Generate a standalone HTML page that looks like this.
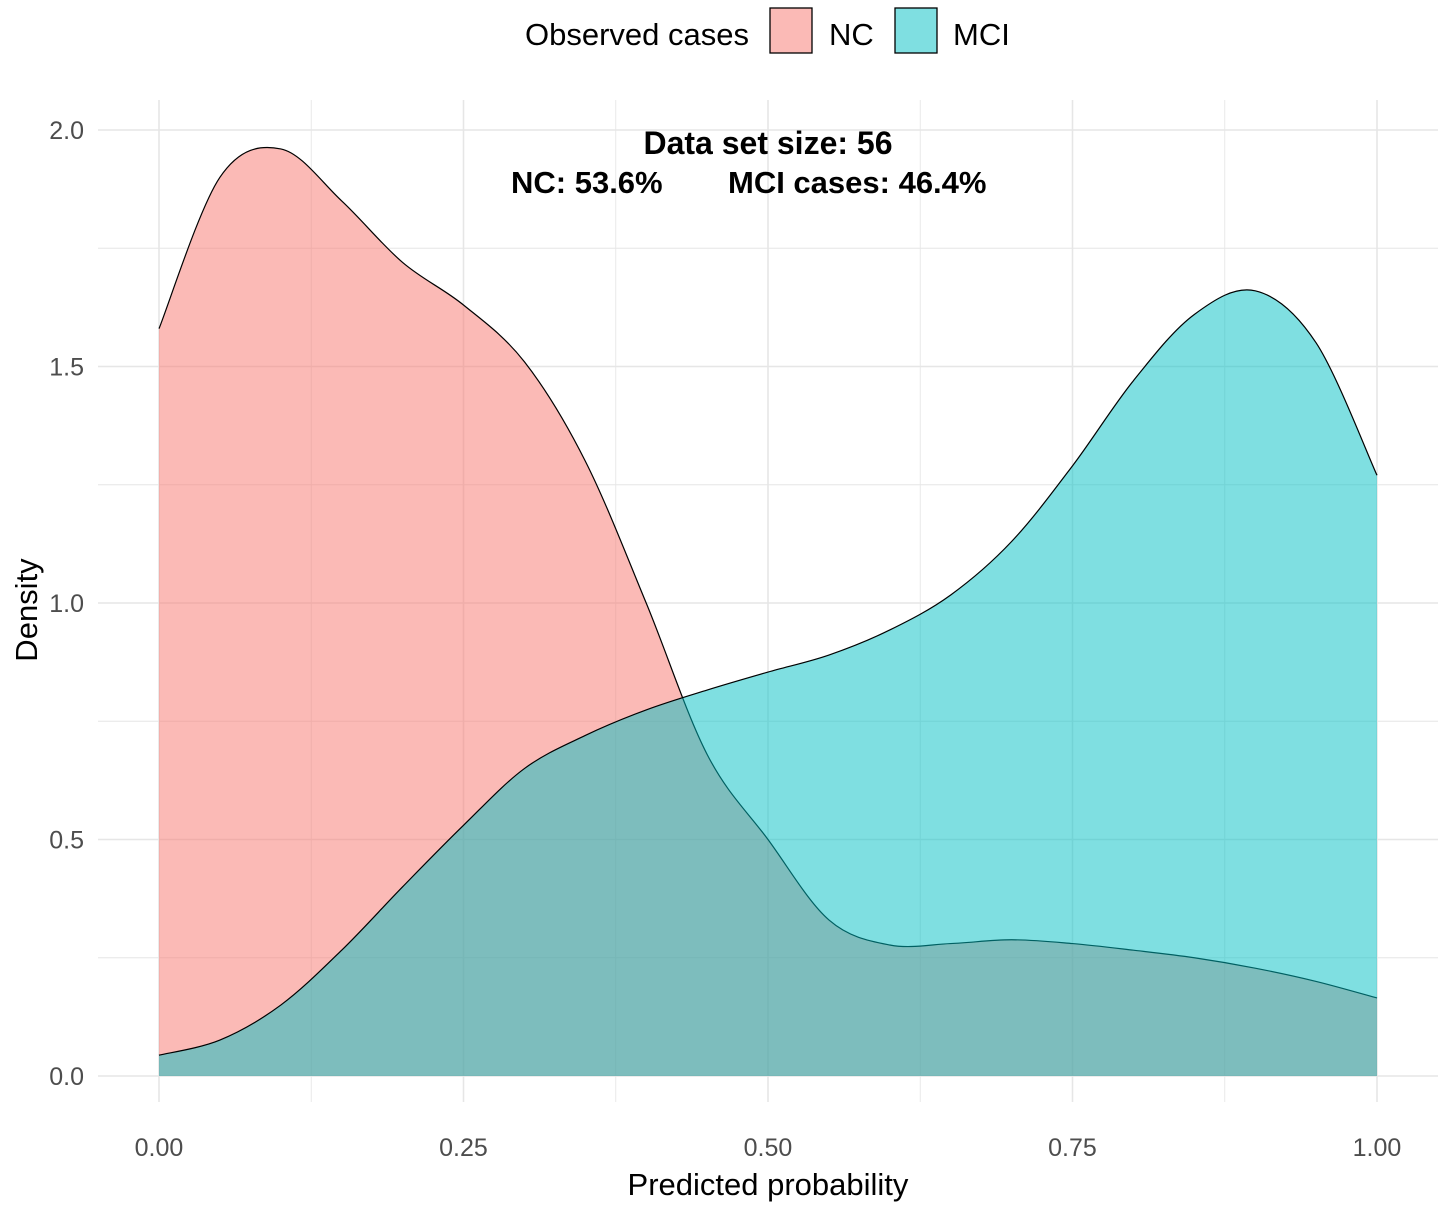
<!DOCTYPE html>
<html><head><meta charset="utf-8"><style>
body{margin:0;background:#fff;}
svg{display:block;font-family:"Liberation Sans",Arial,sans-serif;}
</style></head><body>
<svg id="chart" width="1441" height="1215">
<g id="grid"></g>
<g id="areas"></g>
<g id="ticks"></g>
<text x="768" y="154" text-anchor="middle" font-size="32" font-weight="bold">Data set size: 56</text>
<text x="511" y="193" font-size="31" font-weight="bold">NC: 53.6%</text>
<text x="728" y="193" font-size="31" font-weight="bold">MCI cases: 46.4%</text>
<text x="768" y="1195" text-anchor="middle" font-size="31">Predicted probability</text>
<text transform="translate(37,610) rotate(-90)" text-anchor="middle" font-size="31">Density</text>
<g>
<text x="525" y="45" font-size="31">Observed cases</text>
<rect x="770" y="8" width="42" height="45" fill="#F8766D" fill-opacity="0.5" stroke="#000" stroke-width="1.3"/>
<text x="829" y="45" font-size="31">NC</text>
<rect x="895" y="8" width="42" height="45" fill="#00BFC4" fill-opacity="0.5" stroke="#000" stroke-width="1.3"/>
<text x="953" y="45" font-size="31">MCI</text>
</g>
</svg>
<script>
const xs = [0,0.05,0.1,0.15,0.2,0.25,0.3,0.35,0.4,0.45,0.5,0.55,0.6,0.65,0.7,0.75,0.8,0.85,0.9,0.95,1.0];
const ncVals = [1.58,1.90,1.96,1.85,1.72,1.63,1.51,1.30,1.0,0.68,0.50,0.33,0.277,0.28,0.288,0.28,0.266,0.25,0.228,0.20,0.165];
const mciVals = [0.044,0.076,0.15,0.266,0.40,0.53,0.65,0.72,0.774,0.816,0.854,0.89,0.943,1.017,1.13,1.29,1.47,1.61,1.66,1.55,1.27];
const xTicks = [0,0.25,0.5,0.75,1.0];
const xTickLabels = ["0.00","0.25","0.50","0.75","1.00"];
const yTicks = [0,0.5,1.0,1.5,2.0];
const yTickLabels = ["0.0","0.5","1.0","1.5","2.0"];
const NS="http://www.w3.org/2000/svg";
const X=v=>159+v*1218, Y=v=>1076-v*473;
function mk(t,a,p){const e=document.createElementNS(NS,t);for(const k in a)e.setAttribute(k,a[k]);p.appendChild(e);return e;}
const grid=document.getElementById('grid'), ticks=document.getElementById('ticks'), areas=document.getElementById('areas');
for(let v=0;v<=1.0001;v+=0.125){const l=mk('line',{x1:X(v),x2:X(v),y1:100,y2:1102,stroke:'#e6e6e6','stroke-width':v*8%2<0.01?1.6:0.9},grid);
}
for(let v=0;v<=2.0001;v+=0.25){const l=mk('line',{x1:98,x2:1438,y1:Y(v),y2:Y(v),stroke:'#e6e6e6','stroke-width':v*4%2<0.01?1.6:0.9},grid);
}
xTicks.forEach((v,i)=>{const t=mk('text',{x:X(v),y:1156,'text-anchor':'middle','font-size':25,fill:'#4d4d4d'},ticks);t.textContent=xTickLabels[i];
});
yTicks.forEach((v,i)=>{const t=mk('text',{x:84,y:Y(v)+9,'text-anchor':'end','font-size':25,fill:'#4d4d4d'},ticks);t.textContent=yTickLabels[i];
});
function curve(vals){const p=xs.map((x,i)=>[X(x),Y(vals[i])]);let d=`M${p[0][0]},${p[0][1]}`;
for(let i=0;i<p.length-1;i++){const p0=p[Math.max(0,i-1)],p1=p[i],p2=p[i+1],p3=p[Math.min(p.length-1,i+2)];
d+=` C${p1[0]+(p2[0]-p0[0])/6},${p1[1]+(p2[1]-p0[1])/6} ${p2[0]-(p3[0]-p1[0])/6},${p2[1]-(p3[1]-p1[1])/6} ${p2[0]},${p2[1]}`;}return d;}
[[ncVals,'#F8766D','nc-density-area'],[mciVals,'#00BFC4','mci-density-area']].forEach(([v,c,n])=>{
const c0=curve(v);
const a=mk('path',{d:`M${X(0)},${Y(0)} L`+c0.slice(1)+` L${X(1)},${Y(0)} Z`,fill:c,'fill-opacity':0.5,stroke:'none'},areas);

const l=mk('path',{d:c0,fill:'none',stroke:'#000','stroke-width':1.2},areas);
});
</script>
</body></html>
